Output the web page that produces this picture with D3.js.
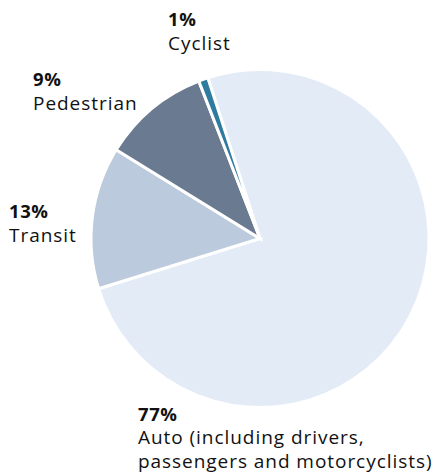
<!DOCTYPE html>
<html>
<head>
<meta charset="utf-8">
<script src="https://cdn.jsdelivr.net/npm/d3@7"></script>
<style>
  html, body { margin: 0; padding: 0; background: #fff; }
  svg text { font-family: "Open Sans", sans-serif; font-size: 19px; letter-spacing: 0.95px; fill: #111; }
  svg text .pct { font-weight: 700; font-size: 18.5px; letter-spacing: 0.6px; }
</style>
</head>
<body>
<svg id="chart" width="436" height="472"></svg>
<script>
const categories = ["Auto", "Transit", "Pedestrian", "Cyclist"];
const values = [75.2, 13.6, 10.3, 0.9];
const pctLabels = ["77%", "13%", "9%", "1%"];
const nameLabels = [
  ["Auto (including drivers,", "passengers and motorcyclists)"],
  ["Transit"],
  ["Pedestrian"],
  ["Cyclist"]
];
const colors = ["#e3ebf7", "#bccadd", "#6a7a90", "#2f7ba0"];

const svg = d3.select("#chart");
const cx = 260, cy = 238.5, r = 169;

const pie = d3.pie().sort(null).value(d => d.value)
  .startAngle(-18 * Math.PI / 180).endAngle(342 * Math.PI / 180);
const data = categories.map((c, i) => ({ name: c, value: values[i], i }));
const arcs = pie(data);
const arc = d3.arc().innerRadius(0).outerRadius(r);
const color = d3.scaleOrdinal().domain(categories).range(colors);

const g = svg.append("g").attr("transform", `translate(${cx},${cy})`);
g.selectAll("path").data(arcs).join("path")
  .attr("d", arc)
  .attr("fill", d => color(d.data.name))
  .attr("stroke", "#fff")
  .attr("stroke-width", 3)
  .attr("stroke-linejoin", "miter");

// label anchor positions (x, first baseline)
const labelPos = {
  "Auto": [138, 420.5],
  "Transit": [9, 218.3],
  "Pedestrian": [33, 86],
  "Cyclist": [168, 26]
};
const lh = 23.5;
categories.forEach((c, i) => {
  const [x, y] = labelPos[c];
  const t = svg.append("text").attr("x", x).attr("y", y);
  t.append("tspan").attr("class", "pct").attr("x", x).attr("y", y).text(pctLabels[i]);
  nameLabels[i].forEach((line, j) => {
    t.append("tspan").attr("x", x).attr("y", y + lh * (j + 1)).text(line);
  });
});
</script>
</body>
</html>
